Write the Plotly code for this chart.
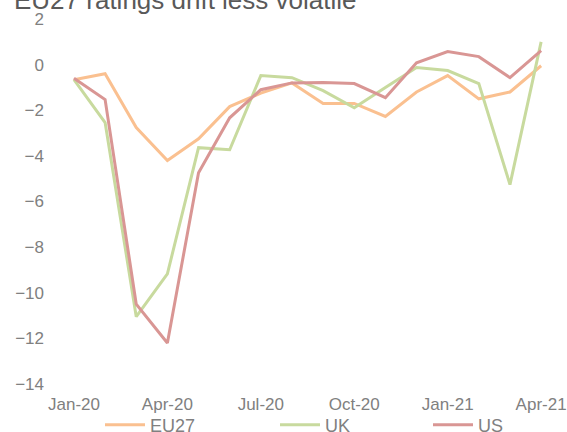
import plotly.graph_objects as go

months = ["Jan-20", "Feb-20", "Mar-20", "Apr-20", "May-20", "Jun-20", "Jul-20", "Aug-20",
          "Sep-20", "Oct-20", "Nov-20", "Dec-20", "Jan-21", "Feb-21", "Mar-21", "Apr-21"]
eu27 = [-0.66, -0.40, -2.76, -4.20, -3.25, -1.84, -1.25, -0.80,
        -1.70, -1.70, -2.27, -1.20, -0.48, -1.50, -1.20, -0.05]
uk = [-0.66, -2.54, -11.05, -9.17, -3.64, -3.73, -0.48, -0.57,
      -1.14, -1.89, -1.00, -0.13, -0.26, -0.83, -5.26, 1.00]
us = [-0.60, -1.53, -10.50, -12.20, -4.74, -2.33, -1.10, -0.80,
      -0.78, -0.83, -1.45, 0.08, 0.57, 0.35, -0.57, 0.61]
tick_labels = ["Jan-20", "Apr-20", "Jul-20", "Oct-20", "Jan-21", "Apr-21"]

x = list(range(len(months)))
tickvals = [months.index(t) for t in tick_labels]

W, H = 567, 432
font = "Liberation Sans, Arial, sans-serif"
series = [("EU27", eu27, "#FAC090", "legend", 100),
          ("UK", uk, "#C8DA9E", "legend2", 275),
          ("US", us, "#D99694", "legend3", 428)]

fig = go.Figure()
legends = {}
for name, vals, col, lg, lx in series:
    fig.add_trace(go.Scatter(x=x, y=vals, name=name, mode="lines", legend=lg,
                             line=dict(color=col, width=3)))
    legends[lg] = dict(orientation="h", xref="container", yref="container",
                       x=lx / W, xanchor="left", y=1 - 425 / H, yanchor="middle",
                       font=dict(family=font, size=18, color="#808080"),
                       bgcolor="rgba(0,0,0,0)", itemwidth=40)

fig.update_layout(
    width=W, height=H,
    margin=dict(l=45, r=10, t=19, b=48),
    paper_bgcolor="white", plot_bgcolor="white",
    font=dict(family=font, color="#808080", size=16),
    showlegend=True,
    xaxis=dict(range=[-0.93, 15.51], tickvals=tickvals, ticktext=tick_labels,
               showgrid=False, zeroline=False, showline=False, ticks="",
               automargin=False, ticklabelstandoff=8,
               tickfont=dict(size=17, color="#808080")),
    yaxis=dict(range=[-14, 2], dtick=2, showgrid=False, zeroline=False, showline=False,
               ticks="", automargin=False,
               tickfont=dict(size=17, color="#808080")),
    annotations=[dict(text="EU27 ratings drift less volatile", xref="paper", yref="paper",
                      x=-33 / 512, xanchor="left", y=1 + 19 / 365, yanchor="middle",
                      showarrow=False,
                      font=dict(family=font, size=26, color="#595959"))],
    **legends,
)

fig.write_html("out.html", config={"displayModeBar": False},
               post_script="document.body.style.margin='0';document.body.style.padding='0';")
